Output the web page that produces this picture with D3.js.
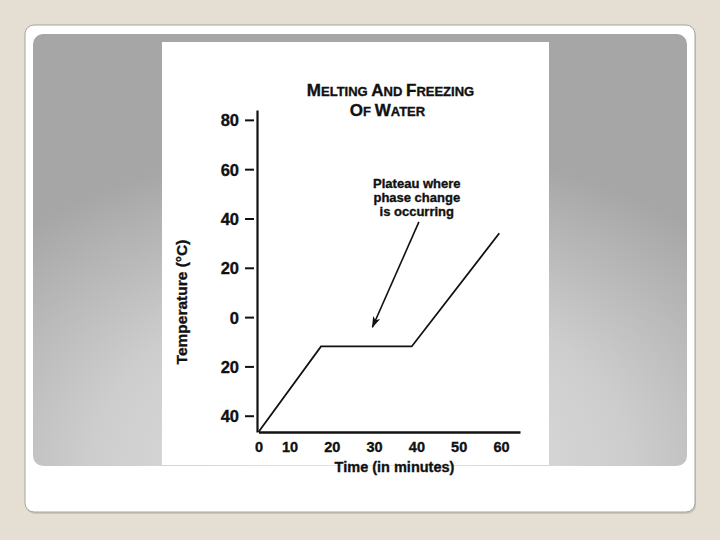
<!DOCTYPE html>
<html>
<head>
<meta charset="utf-8">
<script src="https://cdn.jsdelivr.net/npm/d3@7"></script>
<style>
  html, body { margin: 0; padding: 0; background: #e4ded3; }
  svg { display: block; }
  text { font-family: "Liberation Sans", Arial, Helvetica, sans-serif; font-weight: bold; fill: #111; stroke: #111; stroke-width: 0.35px; }
</style>
</head>
<body>
<svg id="chart" width="720" height="540"></svg>
<script>
// ---- data ----
const timeMinutes = [0, 17.45, 38.9, 59.6];
const temperatureC = [-46.6, -11.9, -11.9, 34.0];
const xTickValues = [0, 10, 20, 30, 40, 50, 60];
const xTickLabels = ["0", "10", "20", "30", "40", "50", "60"];
const yTickValues = [80, 60, 40, 20, 0, -20, -40];
const yTickLabels = ["80", "60", "40", "20", "0", "20", "40"];
const titleLines = [
  [["M", "big"], ["ELTING ", "small"], ["A", "big"], ["ND ", "small"], ["F", "big"], ["REEZING", "small"]],
  [["O", "big"], ["F ", "small"], ["W", "big"], ["ATER", "small"]]
];
const annotationLines = ["Plateau where", "phase change", "is occurring"];
const annotationAnchor = { time: 40.1, temp: 52.5 };
const arrowFrom = { time: 40.6, temp: 38.6 };
const arrowTo = { time: 29.6, temp: -4.1 };
const xAxisTitle = "Time (in minutes)";
const yAxisTitle = "Temperature (°C)";

const svg = d3.select("#chart");
const defs = svg.append("defs");

// slide background
const grad = defs.append("radialGradient").attr("id", "panelGrad")
  .attr("cx", 0.5).attr("cy", 1).attr("r", 0.75).attr("fx", 0.5).attr("fy", 1);
grad.append("stop").attr("offset", 0).attr("stop-color", "#e6e6e6");
grad.append("stop").attr("offset", 0.55).attr("stop-color", "#cdcdcd");
grad.append("stop").attr("offset", 1).attr("stop-color", "#a6a6a6");

svg.append("rect").attr("x", 0).attr("y", 0).attr("width", 720).attr("height", 540).attr("fill", "#e4ded3");
svg.append("rect").attr("x", 26).attr("y", 27).attr("width", 670).attr("height", 487).attr("rx", 9)
  .attr("fill", "#c9c4ba");
svg.append("rect").attr("x", 25).attr("y", 25).attr("width", 670).attr("height", 487).attr("rx", 9)
  .attr("fill", "#ffffff").attr("stroke", "#a8a49c").attr("stroke-width", 1);
svg.append("rect").attr("x", 33).attr("y", 34).attr("width", 654).attr("height", 432).attr("rx", 10)
  .attr("fill", "url(#panelGrad)");
svg.append("rect").attr("x", 162).attr("y", 42).attr("width", 387).attr("height", 423).attr("fill", "#ffffff");

// ---- scales ----
const x = d3.scaleLinear().domain([0, 10, 64.5]).range([258.5, 289.5, 520]);
const y = d3.scaleLinear().domain([-46.6, 84]).range([432, 110]);

// ---- y axis ----
const yAxis = svg.append("g").attr("transform", `translate(${x(0) - 1.5},0)`)
  .call(d3.axisLeft(y).tickValues(yTickValues)
    .tickFormat((d, i) => yTickLabels[i])
    .tickSizeOuter(0).tickSizeInner(12).tickPadding(6));
yAxis.select(".domain").attr("stroke", "#111").attr("stroke-width", 2.2);
yAxis.selectAll(".tick line").attr("x1", -3).attr("stroke", "#111").attr("stroke-width", 2);
yAxis.selectAll(".tick text").attr("font-size", 16.5).attr("font-family", null).attr("fill", "#111")
  .attr("dy", "0.36em");

// ---- x axis ----
const xAxis = svg.append("g").attr("transform", `translate(0,${y(-46.6)})`)
  .call(d3.axisBottom(x).tickValues(xTickValues)
    .tickFormat((d, i) => xTickLabels[i])
    .tickSizeOuter(0).tickSizeInner(0).tickPadding(0));
xAxis.select(".domain").attr("stroke", "#111").attr("stroke-width", 2.6);
xAxis.selectAll(".tick text").attr("font-size", 14.5).attr("font-family", null).attr("fill", "#111")
  .attr("y", 20).attr("dy", 0);

// axis titles
svg.append("text").attr("x", 394.5).attr("y", 471.5).attr("text-anchor", "middle")
  .attr("font-size", 14.5).text(xAxisTitle);
svg.append("text").attr("transform", "translate(187,302) rotate(-90)").attr("text-anchor", "middle")
  .attr("font-size", 15.5).text(yAxisTitle);

// ---- title ----
const titleY = [95.5, 116];
const titleX = [390.5, 387.5];
titleLines.forEach((parts, li) => {
  const t = svg.append("text").attr("x", titleX[li]).attr("y", titleY[li]).attr("text-anchor", "middle");
  parts.forEach(([s, kind]) => {
    t.append("tspan").attr("font-size", kind === "big" ? 17 : 13).text(s);
  });
});

// ---- data line ----
const pts = timeMinutes.map((t, i) => [t, temperatureC[i]]);
svg.append("path").datum(pts)
  .attr("d", d3.line().x(d => x(d[0])).y(d => y(d[1])))
  .attr("fill", "none").attr("stroke", "#111").attr("stroke-width", 1.8)
  .attr("stroke-linejoin", "miter");

// ---- annotation ----
const ann = svg.append("text").attr("text-anchor", "middle").attr("font-size", 13);
annotationLines.forEach((s, i) => {
  ann.append("tspan").attr("x", x(annotationAnchor.time)).attr("y", y(annotationAnchor.temp) + i * 14.4).text(s);
});

defs.append("marker").attr("id", "arrowHead").attr("viewBox", "0 0 12 10")
  .attr("refX", 11).attr("refY", 5).attr("markerWidth", 9).attr("markerHeight", 6)
  .attr("markerUnits", "strokeWidth").attr("orient", "auto")
  .append("path").attr("d", "M0,1 L12,5 L0,9 L3,5 Z").attr("fill", "#111");

svg.append("line")
  .attr("x1", x(arrowFrom.time)).attr("y1", y(arrowFrom.temp))
  .attr("x2", x(arrowTo.time)).attr("y2", y(arrowTo.temp))
  .attr("stroke", "#111").attr("stroke-width", 1.6).attr("marker-end", "url(#arrowHead)");
</script>
</body>
</html>
